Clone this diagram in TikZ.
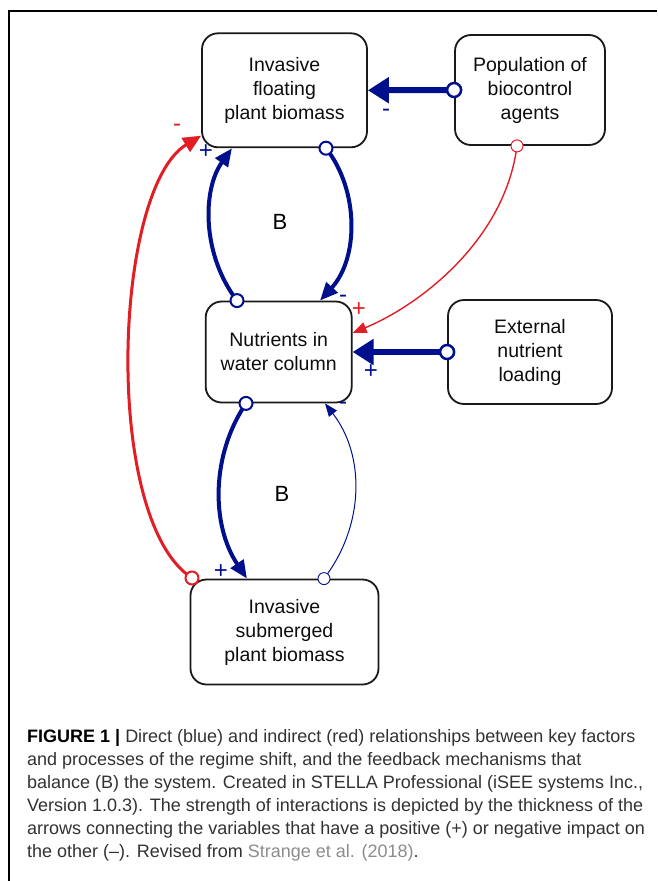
\documentclass[tikz,border=0pt]{standalone}
\usepackage{fontspec}
\setmainfont{Liberation Sans}
\newfontfamily\capfont{Liberation Sans}
\usetikzlibrary{arrows.meta}
\definecolor{lblue}{RGB}{0,16,140}
\definecolor{lred}{RGB}{226,30,36}
\definecolor{capgray}{RGB}{50,50,50}
\definecolor{refgray}{RGB}{140,140,140}
\begin{document}
\begin{tikzpicture}[x=1pt,y=-1pt,
  box/.style={draw=black!90, line width=1.8pt, rounded corners=16pt, align=center,
    inner sep=0pt, text=black!95, font=\fontsize{19.5}{24}\selectfont},
  strongarrow/.style={lblue, line width=6pt, -{Triangle[length=21pt,width=25pt]}},
  loopblue/.style={lblue, line width=4pt, -{Triangle[length=18pt,width=15pt]}},
  thinblue/.style={lblue, line width=1pt, -{Triangle[length=13pt,width=10pt]}},
  thinred/.style={lred, line width=1.4pt, -{Triangle[length=14pt,width=11pt]}},
  thickred/.style={lred, line width=3pt, -{Triangle[length=18pt,width=16pt]}},
  sign/.style={inner sep=0pt, font=\fontsize{24}{24}\selectfont},
  bigB/.style={inner sep=0pt, font=\fontsize{22}{22}\selectfont},
  captext/.style={inner sep=0pt, anchor=base west, text=capgray, font=\capfont\fontsize{18}{23}\selectfont}
]
\useasboundingbox (0,0) rectangle (657,881);
% frame
\draw[black, line width=1.2pt] (9,881) -- (9,11) -- (657,11);

% boxes
\node[box, minimum width=165pt, minimum height=114pt] (flo) at (284.5,90.3) {Invasive\\floating\\plant biomass};
\node[box, minimum width=150pt, minimum height=110pt] (pop) at (530,90) {Population of\\biocontrol\\agents};
\node[box, minimum width=146pt, minimum height=101pt] (nut) at (278.7,352) {Nutrients in\\water column};
\node[box, minimum width=164pt, minimum height=104pt] (ext) at (530,352) {External\\nutrient\\loading};
\node[box, minimum width=188pt, minimum height=105pt] (sub) at (284.5,632) {Invasive\\submerged\\plant biomass};

% connectors
\draw[strongarrow] (pop.west) -- (flo.east);
\draw[lblue, line width=2.5pt, fill=white] (pop.west) circle[radius=7pt];

\draw[strongarrow] (ext.west) -- (nut.east);
\draw[lblue, line width=2.5pt, fill=white] (ext.west) circle[radius=7pt];

\draw[loopblue] ([xshift=41.5pt]flo.south) .. controls (359,190) and (359,258) .. ([xshift=41.3pt]nut.north);
\draw[lblue, line width=2pt, fill=white] ([xshift=41.5pt]flo.south) circle[radius=6.5pt];

\draw[loopblue] ([xshift=-41.7pt]nut.north) .. controls (202,255) and (202,190) .. ([xshift=-52.5pt]flo.south);
\draw[lblue, line width=2pt, fill=white] ([xshift=-41.7pt]nut.north) circle[radius=6.5pt];

\draw[loopblue] ([xshift=-32.7pt]nut.south) .. controls (211,455) and (211,525) .. ([xshift=-37.5pt]sub.north);
\draw[lblue, line width=2pt, fill=white] ([xshift=-32.7pt]nut.south) circle[radius=6.5pt];

\draw[thinblue] ([xshift=39.5pt]sub.north) .. controls (365,525) and (365,455) .. ([xshift=46.3pt]nut.south);
\draw[lblue, line width=0.9pt, fill=white] ([xshift=39.5pt]sub.north) circle[radius=6pt];

\draw[thinred] ([xshift=-13pt]pop.south) .. controls (505,240) and (420,305) .. ([yshift=19pt]nut.east);
\draw[lred, line width=1pt, fill=white] ([xshift=-13pt]pop.south) circle[radius=6pt];

\coordinate (redstart) at (192,578);
\draw[thickred] (redstart) .. controls (102,520) and (113,189) .. ([yshift=12.5pt]flo.south west);
\draw[lred, line width=2pt, fill=white] (redstart) circle[radius=6.5pt];

% signs
\node[sign, text=lblue] (s1) at (386,113) {-};
\node[sign, text=lred] (s2) at (177,128) {-};
\node[sign, text=lblue] (s3) at (206,152) {+};
\node[sign, text=lblue] (s4) at (343,299) {-};
\node[sign, text=lred] (s5) at (359,310) {+};
\node[sign, text=lblue] (s6) at (371,372) {+};
\node[sign, text=lblue] (s7) at (343,406) {-};
\node[sign, text=lblue] (s8) at (221,572) {+};

\node[bigB] (b1) at (280,222) {B};
\node[bigB] (b2) at (282,494) {B};

% caption
\node[captext] (c1) at (27,742) {\textcolor{black}{\textbf{FIGURE 1 |}} Direct (blue) and indirect (red) relationships between key factors};
\node[captext] (c2) at (27,765) {and processes of the regime shift, and the feedback mechanisms that};
\node[captext] (c3) at (27,788) {balance (B) the system. Created in STELLA Professional (iSEE systems Inc.,};
\node[captext] (c4) at (27,811) {Version 1.0.3). The strength of interactions is depicted by the thickness of the};
\node[captext] (c5) at (27,834) {arrows connecting the variables that have a positive (+) or negative impact on};
\node[captext] (c6) at (27,857) {the other (–). Revised from \textcolor{refgray}{Strange et al. (2018)}.};
\end{tikzpicture}
\end{document}
